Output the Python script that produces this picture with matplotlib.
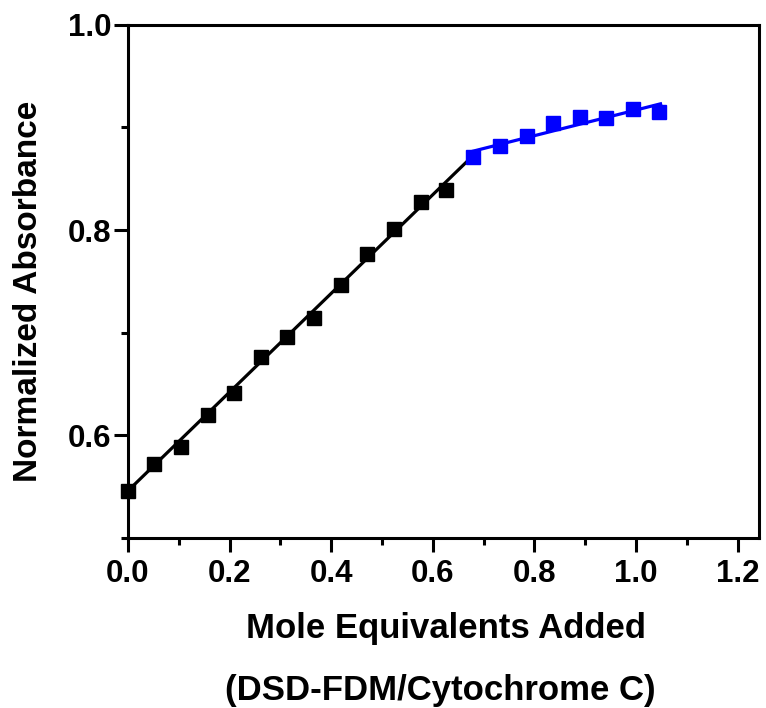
import matplotlib
matplotlib.use('Agg')
import matplotlib.pyplot as plt
from matplotlib.ticker import MultipleLocator

plt.rcParams['font.family'] = ['Liberation Sans', 'DejaVu Sans']
plt.rcParams['font.weight'] = 'bold'

# Titration data (black = before break point, blue = after)
x_black = [0.0, 0.052, 0.104, 0.157, 0.209, 0.262, 0.314, 0.366, 0.419, 0.471, 0.523, 0.576, 0.626]
y_black = [0.546, 0.572, 0.589, 0.620, 0.641, 0.676, 0.696, 0.714, 0.747, 0.777, 0.801, 0.827, 0.839]
x_blue = [0.680, 0.733, 0.785, 0.837, 0.890, 0.941, 0.993, 1.046]
y_blue = [0.871, 0.882, 0.892, 0.904, 0.910, 0.909, 0.918, 0.915]

# Linear fit segments (end points)
fit_black_x = [0.0, 0.680]
fit_black_y = [0.546, 0.873]
fit_blue_x = [0.680, 1.048]
fit_blue_y = [0.877, 0.923]

fig = plt.figure(figsize=(7.66, 7.08), dpi=100)
ax = fig.add_axes([0.167, 0.240, 0.824, 0.725])

ax.plot(fit_black_x, fit_black_y, color='black', linewidth=2.3, zorder=2)
ax.plot(fit_blue_x, fit_blue_y, color='#0000ff', linewidth=2.3, zorder=2)
ax.plot(x_black, y_black, 's', color='black', markersize=9.5, zorder=3, clip_on=False)
ax.plot(x_blue, y_blue, 's', color='#0000ff', markersize=9.5, zorder=3)

ax.set_xlim(0, 1.242)
ax.set_ylim(0.5, 1.0)
ax.xaxis.set_minor_locator(MultipleLocator(0.1))
ax.yaxis.set_minor_locator(MultipleLocator(0.1))
ax.set_yticks([0.6, 0.8, 1.0])
ax.set_xticks([0.0, 0.2, 0.4, 0.6, 0.8, 1.0, 1.2])
ax.set_xticklabels(['0.0', '0.2', '0.4', '0.6', '0.8', '1.0', '1.2'])

for s in ax.spines.values():
    s.set_linewidth(2.2)
ax.tick_params(which='major', length=10, width=2.2, labelsize=22.5, direction='out')
ax.tick_params(which='minor', length=5, width=2.2, direction='out')
ax.tick_params(axis='x', which='major', pad=5)
ax.tick_params(axis='y', which='major', pad=2)
for lab in ax.get_xticklabels() + ax.get_yticklabels():
    lab.set_fontweight('bold')

fig.text(29 / 766, 1 - 291.5 / 708, 'Normalized Absorbance', rotation=90,
         ha='center', va='center', fontsize=24, fontweight='bold')
fig.text(446 / 766, 70 / 708, 'Mole Equivalents Added', ha='center', va='baseline',
         fontsize=25, fontweight='bold')
fig.text(440 / 766, 8 / 708, '(DSD-FDM/Cytochrome C)', ha='center', va='baseline',
         fontsize=25, fontweight='bold')

fig.savefig('out.png', dpi=100)
